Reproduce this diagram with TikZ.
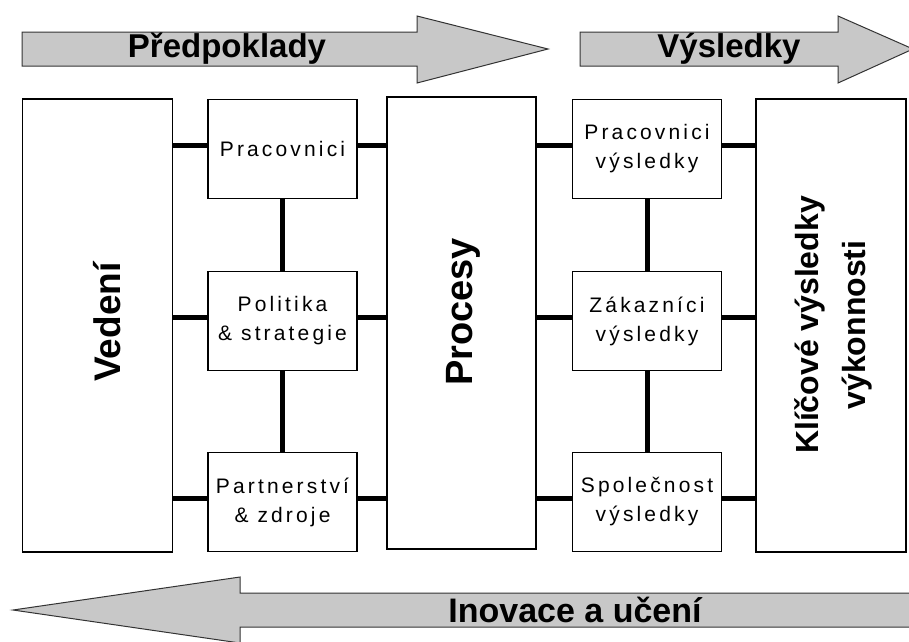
\documentclass[tikz,border=0pt]{standalone}
\usepackage{fontspec}
\setmainfont{Liberation Sans}
\newfontfamily\boxfont[LetterSpace=15]{Liberation Sans}
\usetikzlibrary{calc}

\definecolor{arrowgray}{RGB}{200,200,200}

\tikzset{
  box/.style={draw=black,line width=1.5pt,fill=white,inner sep=0pt},
  smallbox/.style={box,minimum width=149pt,minimum height=99pt,align=center,
    font=\boxfont\fontsize{21}{29}\selectfont},
  bigbox/.style={box,minimum width=150pt,minimum height=453pt},
  conn/.style={line width=5pt},
  bigarrow/.style={draw=black!80,line width=1pt,fill=arrowgray,line join=miter},
  arrowtext/.style={font=\bfseries\fontsize{33}{36}\selectfont},
  bigtext/.style={rotate=90,font=\bfseries\fontsize{37}{46}\selectfont,align=center}
}

\begin{document}
\begin{tikzpicture}[x=1pt,y=-1pt]
  \useasboundingbox (0,0) rectangle (909,641);
  \clip (0,0) rectangle (909,641);

  \draw[bigarrow] (22,32) -- (417,32) -- (417,16) -- (548,49) -- (417,83)
    -- (417,66) -- (22,66) -- cycle;
  \node[arrowtext] (predpoklady) at (227,49) {Předpoklady};
  \draw[bigarrow] (580,32) -- (838,32) -- (838,16) -- (913,49) -- (838,83)
    -- (838,66) -- (580,66) -- cycle;
  \node[arrowtext] (vysledky) at (729,49) {Výsledky};
  \draw[bigarrow] (915,593) -- (240,593) -- (240,577) -- (13,610) -- (240,643)
    -- (240,627) -- (915,627) -- cycle;
  \node[arrowtext,font=\bfseries\fontsize{34}{36}\selectfont] (inovace) at (575,610)
    {Inovace a učení};

  \node[bigbox] (vedeni) at (97.5,325.5) {};
  \node[bigbox,minimum width=149pt,minimum height=452pt] (procesy) at (461.5,323) {};
  \node[bigbox] (klicove) at (831,325.5) {};

  \node[smallbox] (pracovnici) at (282.5,149) {Pracovnici};
  \node[smallbox] (politika) at (282.5,321) {Politika\\\& strategie};
  \node[smallbox] (partnerstvi) at (282.5,502) {Partnerství\\\& zdroje};
  \node[smallbox] (pracvys) at (647,149) {Pracovnici\\výsledky};
  \node[smallbox] (zakaznici) at (647,321) {Zákazníci\\výsledky};
  \node[smallbox] (spolecnost) at (647,502) {Společnost\\výsledky};

  \node[bigtext] (vedenitext) at (107,322) {Vedení};
  \node[bigtext,font=\bfseries\fontsize{38}{46}\selectfont] (procesytext) at (463,312) {Procesy};
  \node[bigtext,font=\bfseries\fontsize{32}{47}\selectfont] (klicovetext) at (833,325)
    {Klíčové výsledky\\výkonnosti};

  \foreach \a/\b in {pracovnici/politika,politika/partnerstvi,
                     pracvys/zakaznici,zakaznici/spolecnost}
    \draw[conn] (\a.south) -- (\b.north);
  \foreach \l/\r in {pracovnici/pracvys,politika/zakaznici,partnerstvi/spolecnost} {
    \draw[conn] ($(vedeni.east |- \l.west)+(0,-4)$) -- ($(\l.west)+(0,-4)$);
    \draw[conn] ($(\l.east)+(0,-4)$) -- ($(procesy.west |- \l.east)+(0,-4)$);
    \draw[conn] ($(procesy.east |- \r.west)+(0,-4)$) -- ($(\r.west)+(0,-4)$);
    \draw[conn] ($(\r.east)+(0,-4)$) -- ($(klicove.west |- \r.east)+(0,-4)$);
  }
\end{tikzpicture}
\end{document}
